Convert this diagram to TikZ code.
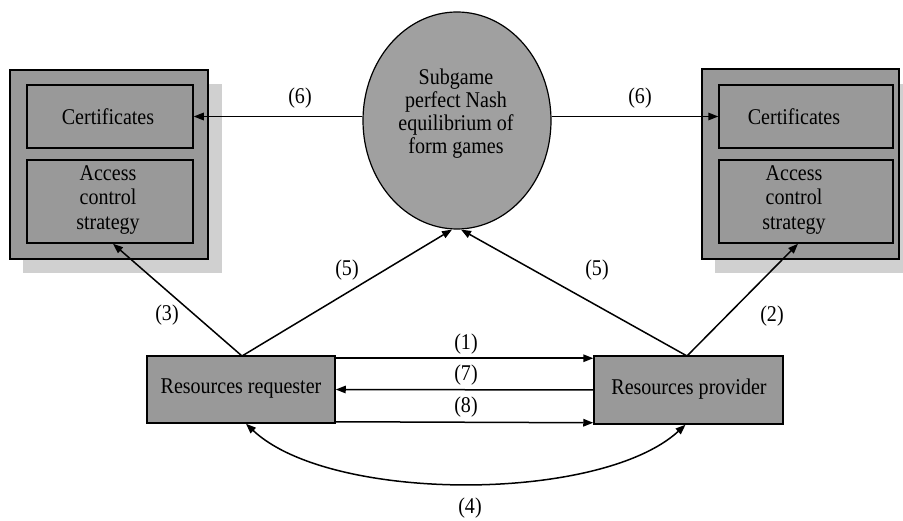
\documentclass[tikz,border=0pt]{standalone}
\usepackage{fontspec}
\setmainfont[FakeStretch=0.89]{Liberation Serif}
\usetikzlibrary{arrows.meta,shapes.geometric}
\definecolor{boxgray}{RGB}{153,153,153}
\definecolor{ellgray}{RGB}{160,160,160}
\definecolor{shadowgray}{RGB}{208,208,208}
\begin{document}
\begin{tikzpicture}[x=1pt,y=-1pt,
  every node/.style={font=\fontsize{22.5}{24.5}\selectfont, inner sep=0pt},
  outerbox/.style={draw=black, line width=1.5pt, fill=boxgray, rectangle},
  innerbox/.style={draw=black, line width=1.5pt, fill=boxgray, rectangle, align=center},
  arr/.style={line width=1.5pt, -{Triangle[length=10pt,width=7.5pt]}},
  arrb/.style={line width=1.5pt, {Triangle[length=10pt,width=7.5pt]}-{Triangle[length=10pt,width=7.5pt]}},
  lbl/.style={fill=none}]
\useasboundingbox (0,0) rectangle (903,521);
\fill[white] (0,0) rectangle (903,521);
% left group
\fill[shadowgray] (23,84) rectangle (222,273);
\node[outerbox, minimum width=198pt, minimum height=189pt] (lout) at (109,164.5) {};
\node[innerbox, minimum width=166pt, minimum height=63pt] (lcert) at (110,116.5) {};
\node at (108,116.5) {Certificates};
\node[innerbox, minimum width=166pt, minimum height=83pt] (lacc) at (110,201.5) {};
\node[align=center] at (108,200) {Access\\control\\strategy};
% right group
\fill[shadowgray] (715,84) rectangle (912,273);
\node[outerbox, minimum width=197pt, minimum height=190pt] (rout) at (800.5,164) {};
\node[innerbox, minimum width=174pt, minimum height=63pt] (rcert) at (806,116.5) {};
\node at (794,116.5) {Certificates};
\node[innerbox, minimum width=174pt, minimum height=83pt] (racc) at (806,201.5) {};
\node[align=center] at (794,200) {Access\\control\\strategy};
% ellipse
\node[ellipse, draw=black, line width=1.2pt, fill=ellgray, minimum width=188pt, minimum height=217pt] (ell) at (457,120.5) {};
\node[align=center, font=\fontsize{22.5}{23}\selectfont] at (456,114) {Subgame\\perfect Nash\\equilibrium of\\form games};
% bottom boxes
\node[innerbox, minimum width=188pt, minimum height=67pt] (req) at (241,389.5) {};
\node at (241,389) {Resources requester};
\node[innerbox, minimum width=189pt, minimum height=68pt] (prov) at (688.5,390) {};
\node at (689,389) {Resources provider};
% connectors
\coordinate (reqtop) at (242,356);
\coordinate (provtop) at (687,356);
\draw[arr] (ell.west |- lcert.east) -- (lcert.east);
\draw[arr] (ell.east |- rcert.west) -- (rcert.west);
\node[lbl] at (300,98) {(6)};
\node[lbl] at (640,98) {(6)};
\draw[arr] (reqtop) -- ([xshift=3pt]lacc.south);
\draw[arr] (provtop) -- ([xshift=-8pt]racc.south);
\draw[arr] (reqtop) -- ([xshift=-5pt]ell.south);
\draw[arr] (provtop) -- ([xshift=4pt]ell.south);
\node[lbl] at (347,270) {(5)};
\node[lbl] at (597,270) {(5)};
\node[lbl] at (167,315) {(3)};
\node[lbl] at (772,316) {(2)};
\draw[arr] ([yshift=-3pt]req.north east) -- ([yshift=-3pt]prov.north west);
\draw[arr] (prov.west) -- (req.east);
\draw[arr] ([yshift=2pt]req.south east) -- ([yshift=2pt]prov.south west);
\node[lbl] at (466,344) {(1)};
\node[lbl] at (466,375) {(7)};
\node[lbl] at (466,407) {(8)};
\draw[arrb] ([xshift=5pt]req.south) .. controls (330,503) and (600,503) .. ([xshift=-3pt]prov.south);
\node[lbl] at (470,508) {(4)};
\end{tikzpicture}
\end{document}
